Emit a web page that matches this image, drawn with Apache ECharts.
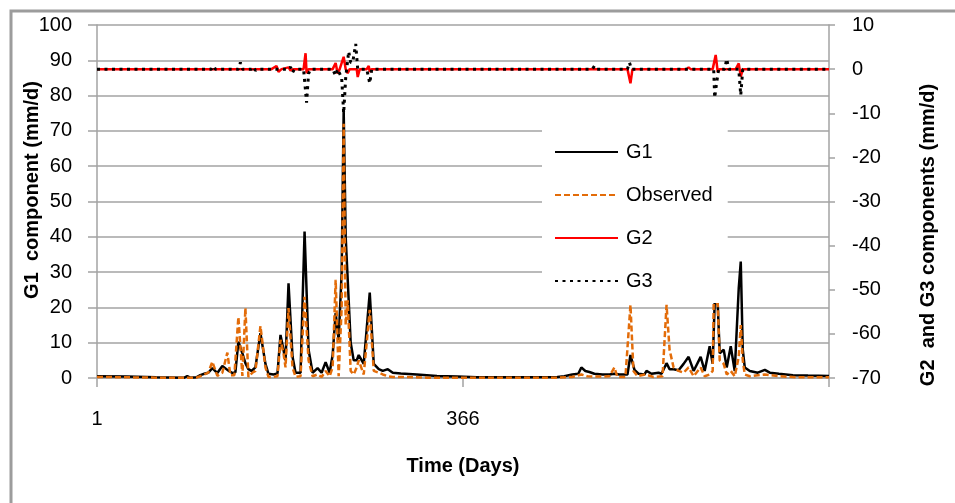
<!DOCTYPE html>
<html>
<head>
<meta charset="utf-8">
<script src="https://cdn.jsdelivr.net/npm/echarts@6/dist/echarts.min.js"></script>
<style>
  html, body { margin: 0; padding: 0; background: #fff; }
  #chart { width: 955px; height: 503px; }
</style>
</head>
<body>
<div id="chart"></div>
<script>
// G1 component (left axis, mm/d)
const g1Days = [1, 30, 60, 88, 91, 94, 100, 104, 108, 112, 116, 121, 126, 131, 136, 139, 142, 146, 149, 152, 155, 159, 164, 169, 172, 177, 181, 184, 187, 189, 192, 196, 199, 204, 208, 212, 216, 221, 225, 229, 233, 236, 239, 242, 245, 247, 249, 251, 254, 257, 260, 262, 267, 273, 277, 282, 286, 291, 296, 304, 320, 340, 360, 380, 400, 430, 460, 467, 475, 481, 484, 488, 492, 497, 505, 512, 517, 522, 530, 533, 537, 541, 547, 549, 554, 561, 564, 569, 572, 576, 581, 586, 591, 596, 603, 607, 612, 615, 617, 620, 622, 626, 629, 633, 637, 641, 643, 645, 647, 652, 660, 667, 672, 681, 695, 710, 731]
const g1Values = [0.5, 0.4, 0.2, 0.1, 0.5, 0.1, 0.2, 0.8, 1.2, 1.5, 2.8, 1.4, 3.4, 2.3, 1.4, 1.6, 10.3, 7, 4.2, 2.5, 2, 3, 12.7, 4, 1.2, 1, 1.3, 12.2, 7.9, 5, 26.8, 6, 1.5, 1.5, 41.5, 8, 1.5, 2.8, 1.5, 4.5, 1.5, 6.5, 18.4, 10.8, 30, 76, 40, 28, 10, 5, 5, 6.5, 4, 24.2, 4, 2.5, 2, 2.5, 1.5, 1.3, 1, 0.6, 0.4, 0.2, 0.2, 0.2, 0.3, 0.5, 1, 1.2, 3, 2, 1.7, 1.2, 1, 1, 1.2, 1, 1, 6.5, 2.3, 1.2, 1, 2, 1.2, 1.5, 1.2, 4.2, 2.5, 2.5, 2.2, 4, 6, 2, 6, 2, 9, 4, 21.2, 21.2, 7, 8, 3, 9, 2, 25.5, 33, 8, 3, 2, 1.5, 2.3, 1.5, 1.2, 0.8, 0.7, 0.6]

// Observed (left axis, mm/d)
const obsDays = [1, 30, 60, 100, 104, 108, 112, 116, 121, 126, 131, 134, 138, 142, 146, 149, 152, 156, 159, 164, 169, 172, 177, 181, 184, 187, 189, 192, 196, 199, 204, 208, 212, 216, 221, 225, 229, 233, 236, 239, 242, 245, 247, 249, 251, 254, 257, 260, 262, 267, 273, 277, 282, 286, 291, 296, 304, 330, 400, 460, 475, 484, 490, 500, 512, 517, 520, 528, 533, 536, 540, 548, 556, 565, 569, 572, 576, 581, 586, 591, 596, 603, 607, 612, 615, 616, 620, 622, 626, 629, 633, 637, 641, 643, 645, 647, 652, 667, 681, 700, 731]
const obsValues = [0.3, 0.2, 0.1, 0.1, 0.5, 1, 1.5, 4.6, 0.6, 1.5, 7.2, 0.8, 0.8, 17.3, 0.6, 19.8, 0.3, 1.5, 2, 14.7, 3, 0.3, 0.3, 0.5, 10.8, 7, 3, 19.8, 3, 0.3, 0.5, 23, 5, 0.5, 1, 0.3, 2, 0.5, 3, 27.8, 0.5, 20, 72, 15, 22, 2, 1, 3, 5, 1, 19.3, 2, 1.5, 1, 0.5, 0.3, 0.3, 0.1, 0.1, 0.1, 0.3, 1, 0.5, 0.4, 0.5, 3, 0.3, 0.3, 20.7, 2, 0.5, 1, 0.3, 0.5, 20.7, 8, 3, 2, 1.5, 3, 0.5, 3, 0.5, 1, 2, 21.2, 21.2, 5, 4, 1, 2, 0.5, 6, 15, 5, 1, 0.5, 1, 0.5, 0.2, 0.2]

// G2 component (right axis, mm/d)
const g2Days = [1, 175, 180, 182, 185, 192, 194, 197, 207, 209, 210, 212, 236, 239, 241, 243, 247, 249, 251, 253, 260, 261, 263, 270, 272, 273, 275, 530, 533, 535, 589, 591, 593, 615, 618, 620, 622, 638, 641, 643, 645, 731]
const g2Values = [0, 0, 0.7, -0.6, 0, 0.4, -0.3, 0, 0, 3.6, -0.9, 0, 0, 1.4, -1, 0, 2.8, 0, -0.9, 0, 0, -1.8, 0, 0, 0.7, -0.6, 0, 0, -3.2, 0, 0, 0.4, 0, 0, 3.2, -0.6, 0, 0, 1.3, -1.7, 0, 0]

// G3 component (right axis, mm/d)
const g3Days = [1, 115, 117, 119, 142, 144, 146, 155, 157, 159, 161, 192, 194, 196, 198, 207, 209, 210, 212, 214, 236, 239, 241, 245, 247, 249, 251, 252, 254, 256, 259, 261, 270, 273, 275, 495, 497, 499, 530, 532, 534, 616, 617, 619, 621, 627, 629, 631, 641, 643, 645, 731]
const g3Values = [0, 0, 0.7, 0, 0, 1.5, 0, 0, 0.5, -0.3, 0, 0, 0.5, -0.8, 0, 0, -5, -7.6, -1, 0, 0, -1.5, 0, -2, -10, -2, 2, 4, 1.5, 1.5, 5.7, 0, 0, -3.2, 0, 0, 0.7, 0, 0, 1.5, 0, 0, -6.5, -3, 0, 0, 2.3, 0, 0, -5.9, 0, 0]

const seriesNames = ['G1', 'Observed', 'G2', 'G3']

function pairs(days, values) {
  return days.map((d, i) => [d, values[i]])
}

const chart = echarts.init(document.getElementById('chart'), null, { renderer: 'canvas' })

const fontFamily = 'Liberation Sans, Arial, sans-serif'
const gridGray = '#a3a3a3'

const option = {
  animation: false,
  backgroundColor: '#fff',
  textStyle: { fontFamily: fontFamily },
  grid: { left: 97, right: 126, top: 25, bottom: 125 },
  // 外框（只看得到左边和上边）
  graphic: [
    {
      type: 'rect',
      shape: { x: 11, y: 11, width: 1000, height: 1000 },
      style: { fill: 'none', stroke: '#9c9c9c', lineWidth: 3 },
      silent: true
    },
    {
      type: 'text',
      x: 32, y: 190, rotation: Math.PI / 2,
      style: {
        text: 'G1  component (mm/d)', fill: '#000',
        font: 'bold 20px ' + fontFamily, align: 'center', verticalAlign: 'middle'
      }
    },
    {
      type: 'text',
      x: 928, y: 235, rotation: Math.PI / 2,
      style: {
        text: 'G2  and G3 components (mm/d)', fill: '#000',
        font: 'bold 20px ' + fontFamily, align: 'center', verticalAlign: 'middle'
      }
    }
  ],
  legend: {
    data: seriesNames,
    orient: 'vertical',
    left: 542,
    top: 117,
    backgroundColor: '#fff',
    padding: [25, 15, 12, 12],
    itemWidth: 63,
    itemHeight: 20,
    itemGap: 23,
    itemStyle: { opacity: 0 },  // 图例只画线，不画圆点
    textStyle: { fontSize: 20, color: '#000', fontFamily: fontFamily, padding: [0, 0, 0, 3] }
  },
  xAxis: {
    type: 'value',
    min: 1,
    max: 731,
    interval: 365,
    name: 'Time (Days)',
    nameLocation: 'middle',
    nameGap: 78,
    nameTextStyle: { fontSize: 20, fontWeight: 'bold', color: '#000', verticalAlign: 'top' },
    axisLine: { show: true, lineStyle: { color: gridGray, width: 1.5 } },
    axisTick: { show: true, inside: false, length: 9, lineStyle: { color: gridGray, width: 1.5 } },
    axisLabel: {
      fontSize: 20, color: '#000', margin: 31,
      formatter: (v) => (v === 731 ? '' : String(v))
    },
    splitLine: { show: false }
  },
  yAxis: [
    {
      type: 'value',
      min: 0, max: 100, interval: 10,
      axisLine: { show: true, lineStyle: { color: gridGray, width: 1.5 } },
      axisTick: { show: true, inside: false, length: 9, lineStyle: { color: gridGray, width: 1.5 } },
      axisLabel: { fontSize: 20, color: '#000', margin: 25 },
      splitLine: { show: true, lineStyle: { color: gridGray, width: 1.5 } }
    },
    {
      type: 'value',
      position: 'right',
      min: -70, max: 10, interval: 10,
      axisLine: { show: true, lineStyle: { color: gridGray, width: 1.5 } },
      axisTick: { show: true, inside: false, length: 6, lineStyle: { color: gridGray, width: 1.5 } },
      axisLabel: { fontSize: 20, color: '#000', margin: 23 },
      splitLine: { show: false }
    }
  ],
  series: [
    {
      name: 'G1', type: 'line', yAxisIndex: 0,
      data: pairs(g1Days, g1Values),
      symbol: 'none',
      lineStyle: { color: '#000', width: 2.5 },
      itemStyle: { color: '#000' }
    },
    {
      name: 'Observed', type: 'line', yAxisIndex: 0,
      data: pairs(obsDays, obsValues),
      symbol: 'none',
      lineStyle: { color: '#e36c09', width: 2.5, type: [6, 3] },
      itemStyle: { color: '#e36c09' }
    },
    {
      name: 'G2', type: 'line', yAxisIndex: 1,
      data: pairs(g2Days, g2Values),
      symbol: 'none',
      lineStyle: { color: '#ff0000', width: 2.5 },
      itemStyle: { color: '#ff0000' }
    },
    {
      name: 'G3', type: 'line', yAxisIndex: 1,
      data: pairs(g3Days, g3Values),
      symbol: 'none',
      lineStyle: { color: '#000', width: 3, type: [3, 4.5] },
      itemStyle: { color: '#000' }
    }
  ]
}

chart.setOption(option)
</script>
</body>
</html>
